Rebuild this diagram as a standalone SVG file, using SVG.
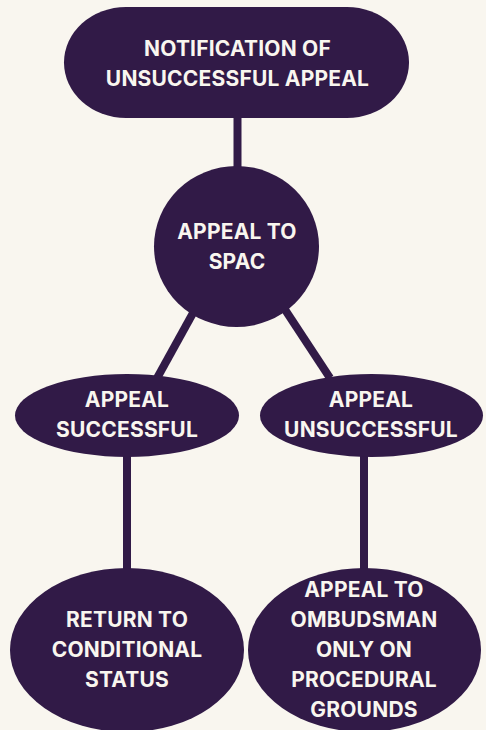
<svg xmlns="http://www.w3.org/2000/svg" width="486" height="730" viewBox="0 0 486 730">
<style>
.n{fill:#311a47}
.c{stroke:#311a47;stroke-width:8;fill:none}
text{font-family:Inter,"Liberation Sans",sans-serif;font-weight:700;font-size:21px;letter-spacing:0.2px;fill:#f9f6ef;text-anchor:middle}
</style>
<rect width="486" height="730" fill="#f9f6ef"/>
<g id="connectors">
<line class="c" x1="237.5" y1="110" x2="237.5" y2="175"/>
<line class="c" x1="198" y1="304" x2="156" y2="380"/>
<line class="c" x1="280" y1="302" x2="330" y2="378"/>
<line class="c" x1="127" y1="450" x2="127" y2="575"/>
<line class="c" x1="364" y1="450" x2="364" y2="575"/>
</g>
<g id="n1">
<rect class="n" x="64" y="7" width="345" height="111" rx="62" ry="55.5"/>
<text x="237.5" y="56">NOTIFICATION OF</text>
<text x="237.5" y="86">UNSUCCESSFUL APPEAL</text>
</g>
<g id="n2">
<ellipse class="n" cx="236.5" cy="246.5" rx="82.5" ry="80.5"/>
<text x="237" y="239">APPEAL TO</text>
<text x="237" y="269">SPAC</text>
</g>
<g id="n3">
<ellipse class="n" cx="127" cy="415.5" rx="112" ry="41.5"/>
<text x="127" y="407">APPEAL</text>
<text x="127" y="437">SUCCESSFUL</text>
</g>
<g id="n4">
<ellipse class="n" cx="371.5" cy="415.5" rx="111.5" ry="41.5"/>
<text x="371" y="407">APPEAL</text>
<text x="371" y="437">UNSUCCESSFUL</text>
</g>
<g id="n5">
<ellipse class="n" cx="127" cy="650" rx="117" ry="82"/>
<text x="127" y="627">RETURN TO</text>
<text x="127" y="657">CONDITIONAL</text>
<text x="127" y="687">STATUS</text>
</g>
<g id="n6">
<ellipse class="n" cx="364.5" cy="650" rx="116.5" ry="82"/>
<text x="364" y="597">APPEAL TO</text>
<text x="364" y="627">OMBUDSMAN</text>
<text x="364" y="657">ONLY ON</text>
<text x="364" y="687">PROCEDURAL</text>
<text x="364" y="717">GROUNDS</text>
</g>
</svg>
